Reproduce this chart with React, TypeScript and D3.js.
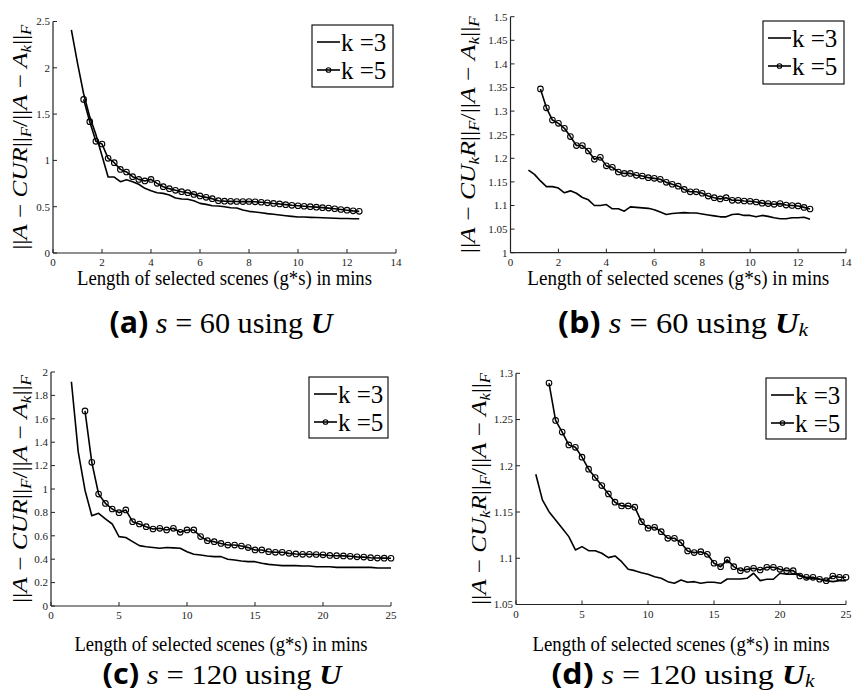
import React from "react";
import * as d3 from "d3";

const SERIF = "Liberation Serif, Times New Roman, serif";

// ---------- data ----------
const xTicksShort = [0, 2, 4, 6, 8, 10, 12, 14];
const xTicksLong = [0, 5, 10, 15, 20, 25];
const yTicksA = [0, 0.5, 1, 1.5, 2, 2.5];
const yTicksB = [1, 1.05, 1.1, 1.15, 1.2, 1.25, 1.3, 1.35, 1.4, 1.45, 1.5];
const yTicksC = [0, 0.2, 0.4, 0.6, 0.8, 1, 1.2, 1.4, 1.6, 1.8, 2];
const yTicksD = [1.05, 1.1, 1.15, 1.2, 1.25, 1.3];

const legendLabels = ["k =3", "k =5"];
const xAxisLabel = "Length of selected scenes (g*s) in mins";

// panel (a): s = 60 using U  (x from 0.75 / 1.25 in steps of 0.25 min)
const aK3 = [2.41, 2.05, 1.72, 1.47, 1.28, 1.05, 0.82, 0.82, 0.77, 0.79, 0.77, 0.742, 0.698, 0.673, 0.651, 0.644, 0.626, 0.594, 0.583, 0.58, 0.565, 0.536, 0.525, 0.511, 0.508, 0.5, 0.489, 0.486, 0.464, 0.45, 0.443, 0.435, 0.425, 0.418, 0.41, 0.403, 0.396, 0.389, 0.388, 0.385, 0.383, 0.38, 0.378, 0.375, 0.373, 0.372, 0.37, 0.37];
const aK5 = [1.659, 1.418, 1.206, 1.177, 1.022, 0.975, 0.903, 0.875, 0.824, 0.795, 0.778, 0.795, 0.752, 0.716, 0.695, 0.677, 0.662, 0.651, 0.633, 0.616, 0.601, 0.587, 0.565, 0.56, 0.558, 0.556, 0.555, 0.556, 0.553, 0.548, 0.542, 0.535, 0.53, 0.522, 0.515, 0.51, 0.505, 0.5, 0.495, 0.49, 0.485, 0.478, 0.47, 0.462, 0.455, 0.45];

// panel (b): s = 60 using U_k
const bK3 = [1.175, 1.166, 1.152, 1.14, 1.14, 1.137, 1.127, 1.131, 1.126, 1.117, 1.112, 1.1, 1.1, 1.102, 1.093, 1.093, 1.088, 1.097, 1.096, 1.095, 1.094, 1.091, 1.086, 1.081, 1.083, 1.084, 1.085, 1.084, 1.084, 1.082, 1.08, 1.078, 1.076, 1.076, 1.081, 1.082, 1.079, 1.079, 1.076, 1.079, 1.077, 1.074, 1.072, 1.072, 1.074, 1.074, 1.075, 1.071];
const bK5 = [1.347, 1.307, 1.281, 1.274, 1.2635, 1.246, 1.227, 1.227, 1.2155, 1.198, 1.202, 1.184, 1.181, 1.171, 1.168, 1.168, 1.164, 1.1625, 1.159, 1.1575, 1.1555, 1.149, 1.145, 1.141, 1.134, 1.129, 1.129, 1.126, 1.12, 1.1165, 1.114, 1.1165, 1.111, 1.111, 1.1095, 1.109, 1.1074, 1.105, 1.104, 1.1025, 1.104, 1.101, 1.1, 1.099, 1.096, 1.0926];

// panel (c): s = 120 using U  (x from 1.5 / 2.5 in steps of 0.5 min)
const cK3 = [1.917, 1.319, 0.99, 0.772, 0.792, 0.744, 0.701, 0.593, 0.585, 0.55, 0.516, 0.507, 0.5, 0.493, 0.5, 0.497, 0.493, 0.464, 0.442, 0.436, 0.427, 0.422, 0.422, 0.399, 0.393, 0.385, 0.379, 0.379, 0.365, 0.356, 0.35, 0.345, 0.345, 0.345, 0.342, 0.342, 0.336, 0.336, 0.336, 0.33, 0.33, 0.33, 0.33, 0.33, 0.33, 0.325, 0.325, 0.325];
const cK5 = [1.667, 1.228, 0.957, 0.877, 0.829, 0.798, 0.821, 0.721, 0.701, 0.678, 0.658, 0.664, 0.65, 0.664, 0.63, 0.65, 0.65, 0.593, 0.558, 0.55, 0.535, 0.521, 0.521, 0.513, 0.499, 0.479, 0.479, 0.464, 0.459, 0.459, 0.45, 0.445, 0.442, 0.442, 0.44, 0.437, 0.432, 0.43, 0.428, 0.425, 0.42, 0.418, 0.413, 0.41, 0.409, 0.408];

// panel (d): s = 120 using U_k
const dK3 = [1.1909, 1.1631, 1.1504, 1.1414, 1.1325, 1.1234, 1.109, 1.1126, 1.1082, 1.1082, 1.1054, 1.1007, 1.1025, 1.0963, 1.0881, 1.0866, 1.0844, 1.0827, 1.0801, 1.0783, 1.0747, 1.0729, 1.0765, 1.074, 1.0747, 1.0729, 1.074, 1.074, 1.0729, 1.0776, 1.0776, 1.0776, 1.0783, 1.0838, 1.0758, 1.0773, 1.0773, 1.0838, 1.0827, 1.083, 1.082, 1.0783, 1.0783, 1.0773, 1.0758, 1.0747, 1.0758, 1.0758];
const dK5 = [1.2894, 1.249, 1.2364, 1.2226, 1.22, 1.2093, 1.1963, 1.1873, 1.1786, 1.1696, 1.1606, 1.1566, 1.1566, 1.1552, 1.1396, 1.1325, 1.1335, 1.1288, 1.1216, 1.1216, 1.1169, 1.1079, 1.1061, 1.1071, 1.1043, 1.0946, 1.0909, 1.0982, 1.0909, 1.0866, 1.088, 1.0892, 1.0873, 1.0902, 1.0902, 1.088, 1.0866, 1.0866, 1.0808, 1.0794, 1.0794, 1.0773, 1.0758, 1.0808, 1.0794, 1.0794];

// ---------- components ----------
type PanelProps = {
  xDomain: [number, number];
  yDomain: [number, number];
  xRange: [number, number];
  yRange: [number, number];
  xTicks: number[];
  yTicks: number[];
  k3: number[];
  k5: number[];
  k3Start: number;
  k5Start: number;
  step: number;
  legend: { x: number; y: number; w: number; h: number };
  yLab: { x: number; len: number; uk: boolean };
  xLabY: number;
  xLabLen: number;
};

function YLabel({ x, cy, len, uk }: { x: number; cy: number; len: number; uk: boolean }) {
  const sub = 14;
  return (
    <text
      transform={`translate(${x},${cy}) rotate(-90)`}
      textAnchor="middle"
      fontFamily={SERIF}
      fontSize={21}
      textLength={len}
      lengthAdjust="spacingAndGlyphs"
      fill="#000"
    >
      <tspan>||</tspan>
      <tspan fontStyle="italic">A</tspan>
      <tspan>{" − "}</tspan>
      <tspan fontStyle="italic">CU</tspan>
      {uk ? (
        <tspan fontStyle="italic" fontSize={sub} dy={4}>k</tspan>
      ) : null}
      <tspan fontStyle="italic" dy={uk ? -4 : 0}>R</tspan>
      <tspan>||</tspan>
      <tspan fontStyle="italic" fontSize={sub} dy={4}>F</tspan>
      <tspan dy={-4}>/||</tspan>
      <tspan fontStyle="italic">A</tspan>
      <tspan>{" − "}</tspan>
      <tspan fontStyle="italic">A</tspan>
      <tspan fontStyle="italic" fontSize={sub} dy={4}>k</tspan>
      <tspan dy={-4}>||</tspan>
      <tspan fontStyle="italic" fontSize={sub} dy={4}>F</tspan>
    </text>
  );
}

function Panel(p: PanelProps) {
  const x = d3.scaleLinear().domain(p.xDomain).range(p.xRange);
  const y = d3.scaleLinear().domain(p.yDomain).range(p.yRange);
  const pts3: [number, number][] = p.k3.map((v, i) => [p.k3Start + i * p.step, v]);
  const pts5: [number, number][] = p.k5.map((v, i) => [p.k5Start + i * p.step, v]);
  const line = d3
    .line<[number, number]>()
    .x((d) => x(d[0]))
    .y((d) => y(d[1]));
  const x0 = p.xRange[0];
  const y0 = p.yRange[0];
  const yTop = y(p.yTicks[p.yTicks.length - 1]);
  const axisColor = "#222";
  const L = p.legend;
  const cx = (p.xRange[0] + p.xRange[1]) / 2;
  return (
    <g>
      <line x1={x0} x2={x0} y1={y0} y2={yTop} stroke={axisColor} strokeWidth={1.2} />
      <line x1={x0} x2={p.xRange[1]} y1={y0} y2={y0} stroke={axisColor} strokeWidth={1.2} />
      {p.yTicks.map((t) => (
        <g key={"y" + t}>
          <line x1={x0} x2={x0 + 4} y1={y(t)} y2={y(t)} stroke={axisColor} strokeWidth={1} />
          <text x={x0 - 3} y={y(t)} dy="0.35em" textAnchor="end" fontFamily={SERIF} fontSize={11} fill="#222">
            {String(t)}
          </text>
        </g>
      ))}
      {p.xTicks.map((t) => (
        <g key={"x" + t}>
          <line x1={x(t)} x2={x(t)} y1={y0} y2={y0 - 4} stroke={axisColor} strokeWidth={1} />
          <text x={x(t)} y={y0 + 13} textAnchor="middle" fontFamily={SERIF} fontSize={11} fill="#222">
            {String(t)}
          </text>
        </g>
      ))}
      <path d={line(pts3) || ""} fill="none" stroke="#000" strokeWidth={1.6} strokeLinejoin="round" />
      <path d={line(pts5) || ""} fill="none" stroke="#000" strokeWidth={1.6} strokeLinejoin="round" />
      {pts5.map((d, i) => (
        <circle key={i} cx={x(d[0])} cy={y(d[1])} r={2.8} fill="none" stroke="#000" strokeWidth={1.1} />
      ))}
      <rect x={L.x} y={L.y} width={L.w} height={L.h} fill="#fff" stroke="#000" strokeWidth={1.1} />
      <line x1={L.x + 5} x2={L.x + 28} y1={L.y + 17} y2={L.y + 17} stroke="#000" strokeWidth={1.6} />
      <text x={L.x + 29} y={L.y + 26} fontFamily={SERIF} fontSize={25}>{legendLabels[0]}</text>
      <line x1={L.x + 5} x2={L.x + 28} y1={L.y + 45} y2={L.y + 45} stroke="#000" strokeWidth={1.6} />
      <circle cx={L.x + 16.5} cy={L.y + 45} r={2.3} fill="none" stroke="#000" strokeWidth={1.1} />
      <text x={L.x + 29} y={L.y + 54} fontFamily={SERIF} fontSize={25}>{legendLabels[1]}</text>
      <text
        x={cx}
        y={p.xLabY}
        textAnchor="middle"
        fontFamily={SERIF}
        fontSize={20}
        textLength={p.xLabLen}
        lengthAdjust="spacingAndGlyphs"
      >
        {xAxisLabel}
      </text>
      <YLabel x={p.yLab.x} cy={(y0 + yTop) / 2} len={p.yLab.len} uk={p.yLab.uk} />
    </g>
  );
}

function Caption({ cx, y, len, letter, num, uk, size }: { cx: number; y: number; len: number; letter: string; num: string; uk: boolean; size: number }) {
  return (
    <text x={cx} y={y} textAnchor="middle" fontFamily={SERIF} fontSize={size} textLength={len} lengthAdjust="spacingAndGlyphs" fill="#000">
      <tspan fontFamily="Open Sans, DejaVu Sans, sans-serif" fontWeight="bold">{`(${letter})`}</tspan>
      <tspan fontStyle="italic">{" s"}</tspan>
      <tspan>{` = ${num} using `}</tspan>
      <tspan fontWeight="bold" fontStyle="italic">U</tspan>
      {uk ? (
        <tspan fontStyle="italic" fontSize={size * 0.66} dy={3}>k</tspan>
      ) : null}
    </text>
  );
}

export default function App() {
  return (
    <svg
      width={852}
      height={694}
      viewBox="0 0 852 694"
      style={{ position: "absolute", left: 0, top: 0, background: "#fff" }}
    >
      <rect x={0} y={0} width={852} height={694} fill="#fff" />
      <Panel
        xDomain={[0, 14]}
        yDomain={[0, 2.5]}
        xRange={[53, 396]}
        yRange={[253, 21.5]}
        xTicks={xTicksShort}
        yTicks={yTicksA}
        k3={aK3}
        k5={aK5}
        k3Start={0.75}
        k5Start={1.25}
        step={0.25}
        legend={{ x: 312, y: 25, w: 81, h: 62 }}
        yLab={{ x: 27, len: 225, uk: false }}
        xLabY={285}
        xLabLen={295}
      />
      <Panel
        xDomain={[0, 14]}
        yDomain={[1, 1.5]}
        xRange={[510.5, 846]}
        yRange={[252.7, 16.7]}
        xTicks={xTicksShort}
        yTicks={yTicksB}
        k3={bK3}
        k5={bK5}
        k3Start={0.75}
        k5Start={1.25}
        step={0.25}
        legend={{ x: 763, y: 21, w: 81, h: 63 }}
        yLab={{ x: 475, len: 237, uk: true }}
        xLabY={285}
        xLabLen={302}
      />
      <Panel
        xDomain={[0, 25]}
        yDomain={[0, 2]}
        xRange={[51, 391]}
        yRange={[606, 372]}
        xTicks={xTicksLong}
        yTicks={yTicksC}
        k3={cK3}
        k5={cK5}
        k3Start={1.5}
        k5Start={2.5}
        step={0.5}
        legend={{ x: 309, y: 377, w: 79, h: 61 }}
        yLab={{ x: 27, len: 228, uk: false }}
        xLabY={651}
        xLabLen={293}
      />
      <Panel
        xDomain={[0, 25]}
        yDomain={[1.05, 1.3]}
        xRange={[516, 846]}
        yRange={[604.5, 373.3]}
        xTicks={xTicksLong}
        yTicks={yTicksD}
        k3={dK3}
        k5={dK5}
        k3Start={1.5}
        k5Start={2.5}
        step={0.5}
        legend={{ x: 766, y: 378, w: 80, h: 61 }}
        yLab={{ x: 486, len: 232, uk: true }}
        xLabY={651}
        xLabLen={297}
      />
      <Caption cx={221} y={333} len={223} letter="a" num="60" uk={false} size={30} />
      <Caption cx={683} y={333} len={250} letter="b" num="60" uk={true} size={30} />
      <Caption cx={222} y={684} len={239} letter="c" num="120" uk={false} size={28} />
      <Caption cx={683} y={684} len={263} letter="d" num="120" uk={true} size={28} />
    </svg>
  );
}
